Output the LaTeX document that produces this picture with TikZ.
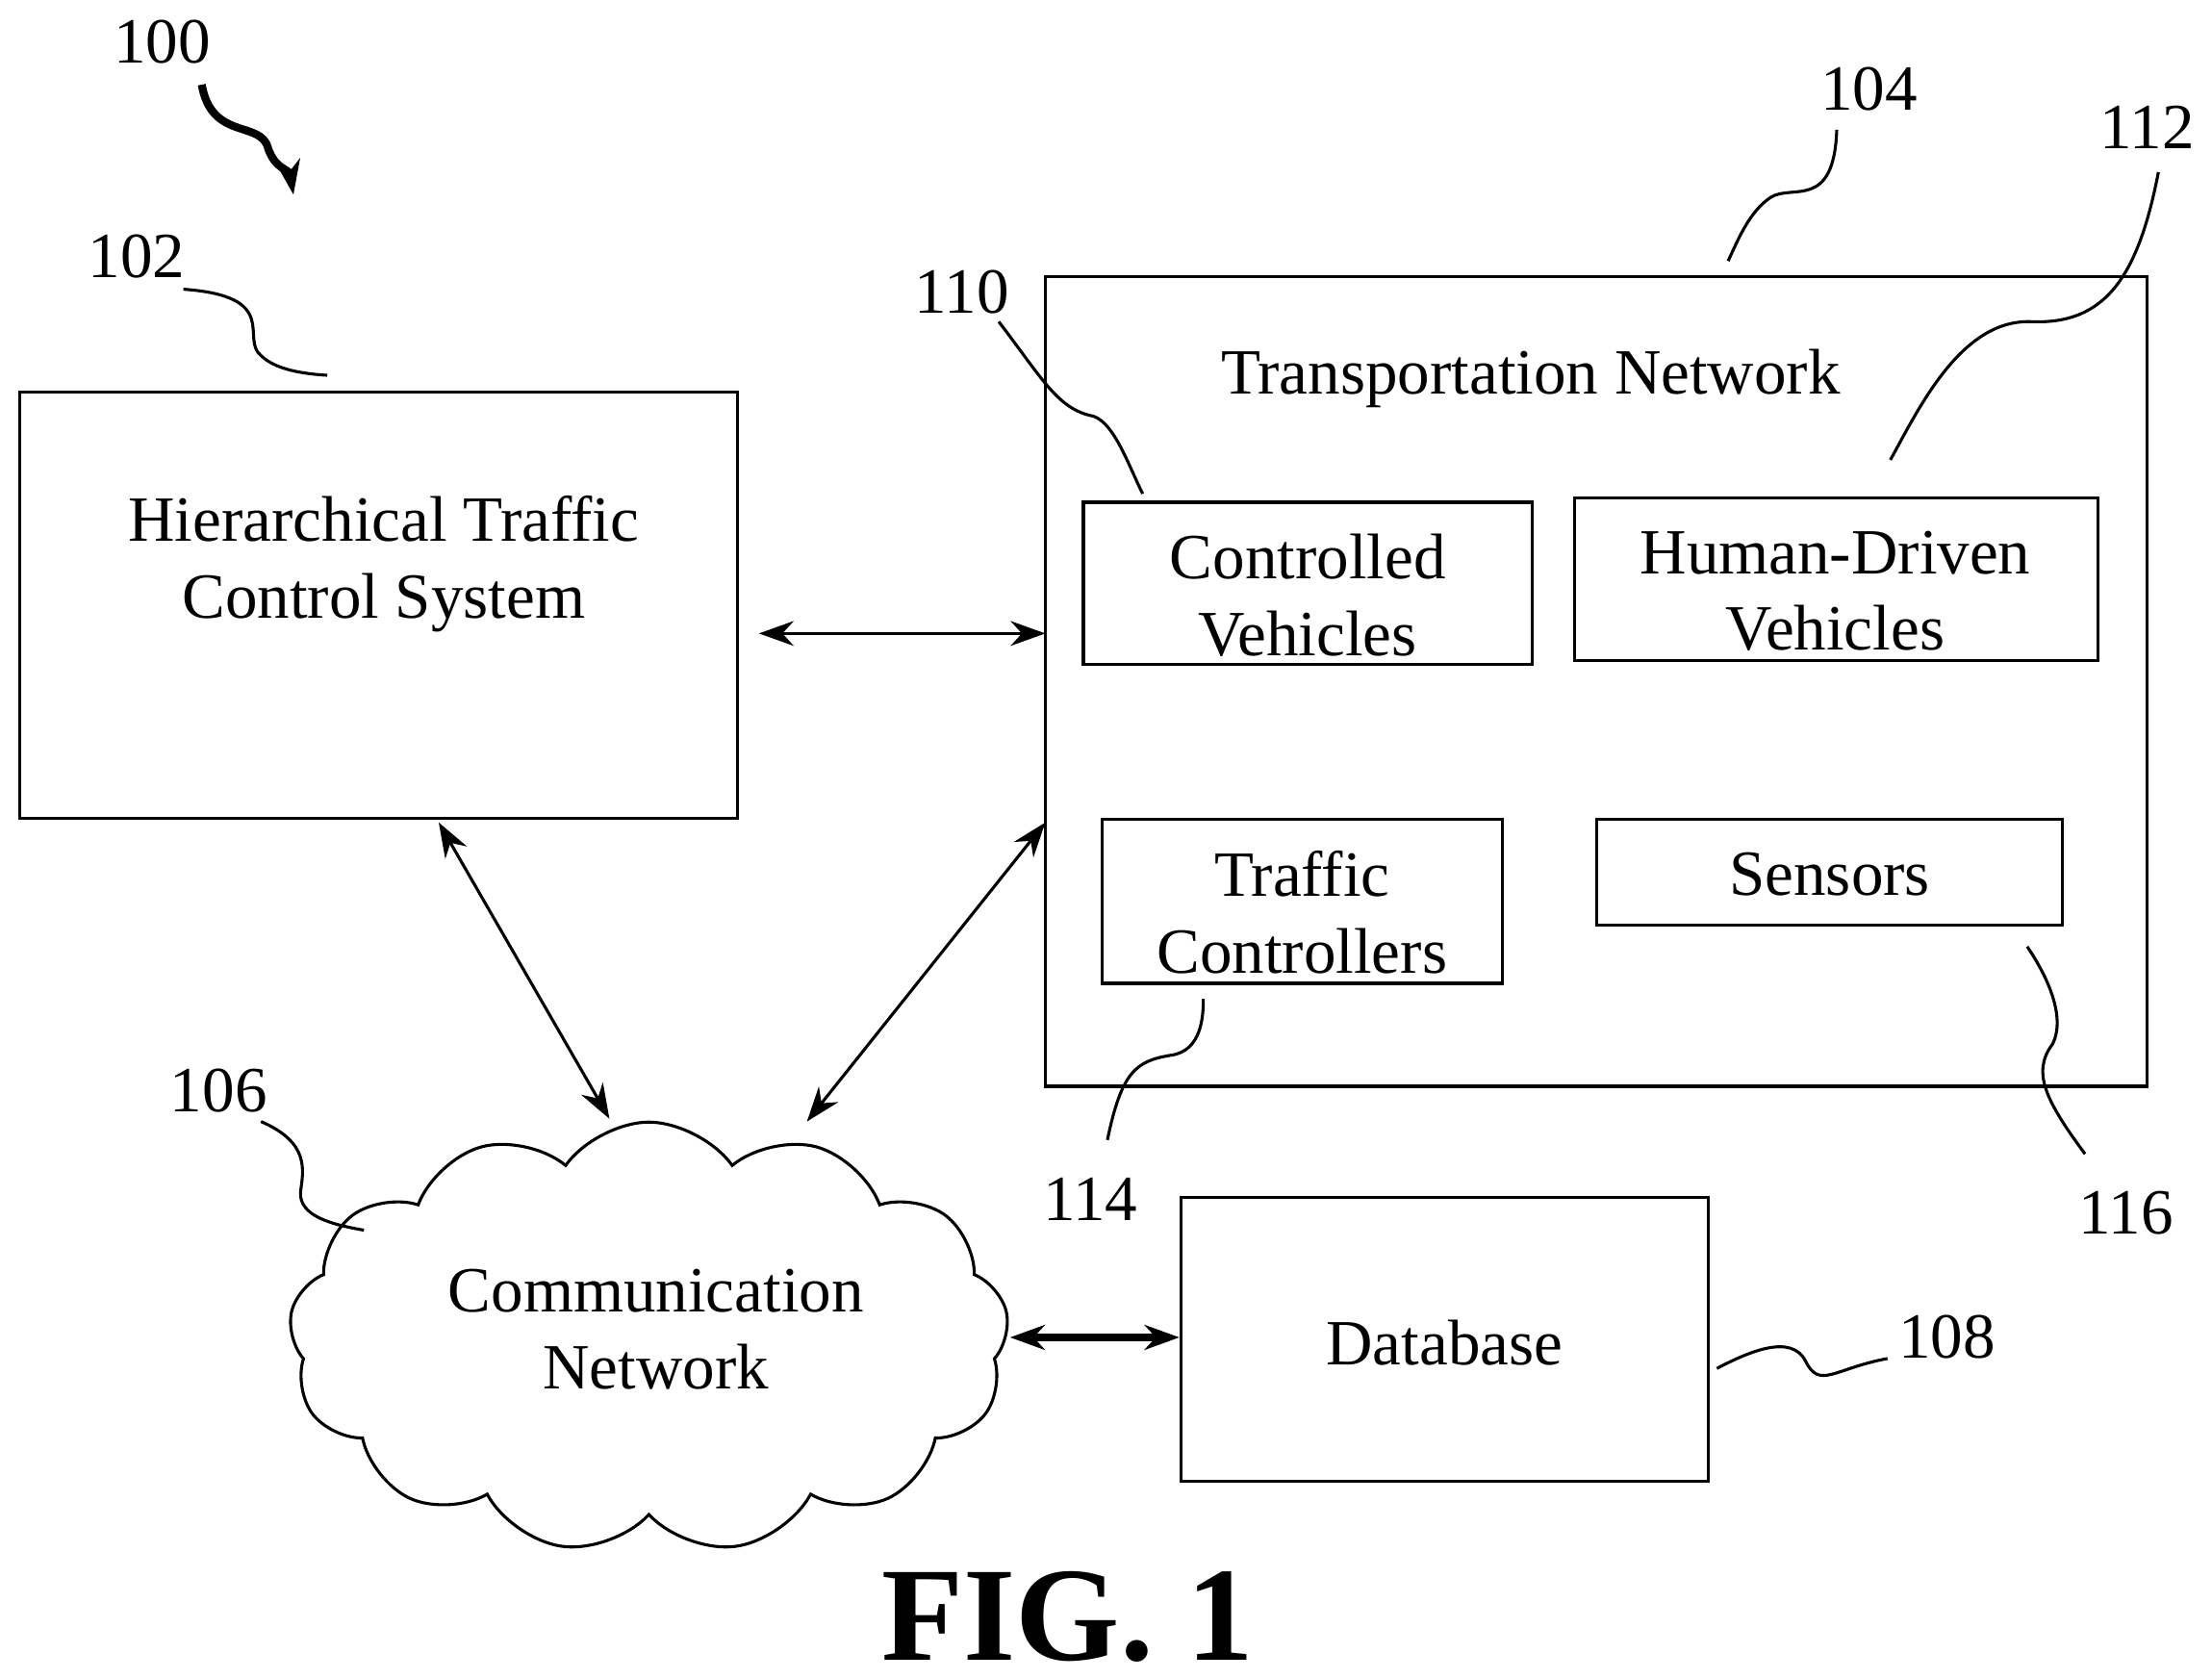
\documentclass[tikz,border=0pt]{standalone}
\usepackage{fontspec}
\setmainfont{Liberation Serif}
\usetikzlibrary{shapes.symbols,arrows.meta}

\begin{document}
\begin{tikzpicture}[%
    x=0.01cm, y=-0.01cm,        % pixel-like grid, y grows downwards
    >={Stealth[length=7pt,width=5pt]},
    font=\fontsize{13}{15.5}\selectfont,
    ]
% -------------------------------------------------
% Box and line styles
\tikzset{
  box/.style={draw, semithick},
  link/.style={<->, semithick},
  lead/.style={semithick},
  num/.style={inner sep=1pt}
}
\useasboundingbox (0,0) rectangle (1568,1190);
% -------------------------------------------------
% Main blocks
\draw [box] (14,278) rectangle (523,580);
\coordinate (htcsE) at (538,449);
\node [align=center] (htcs) at (272,400) {Hierarchical Traffic\\Control System};
\draw [box] (741,196) rectangle (1522,770);
\coordinate (tnW) at (741,449);
\coordinate (tnSW) at (741,583);
\node (tn) at (1085,268) {Transportation Network};
\draw [box] (768,356) rectangle (1086,471);
\node [align=center] (cv) at (927,422) {Controlled\\Vehicles};
\draw [box] (1116,353) rectangle (1487,468);
\node [align=center] (hv) at (1301,419) {Human-Driven\\Vehicles};
\draw [box] (781,581) rectangle (1065,697);
\node [align=center] (tc) at (923,647) {Traffic\\Controllers};
\draw [box] (1132,581) rectangle (1462,656);
\node (sen) at (1297,620) {Sensors};
\draw [box] (837,849) rectangle (1211,1050);
\node (db) at (1024,952) {Database};
\coordinate (dbW) at (836,948);
% Cloud
\node [cloud, draw, semithick, cloud puffs=13, cloud puff arc=110, aspect=1.7,
       minimum width=5.1cm, minimum height=3.05cm] (cn) at (460,948) {};
\node [align=center] at (465,942) {Communication\\Network};
% -------------------------------------------------
% Connectors
\coordinate (htcsS) at (311,583);
\coordinate (cnN1) at (432,793);
\coordinate (cnN2) at (572,795);
\coordinate (cnE) at (716,948);
\draw [link] (htcsE) -- (tnW);
\draw [link] (htcsS) -- (cnN1);
\draw [link] (tnSW) -- (cnN2);
\draw [link, line width=1.6pt] (cnE) -- (dbW);
% -------------------------------------------------
% Reference numerals and their wavy leaders
\node [num] (n100) at (115,30) {100};
\draw [->, line width=1.6pt] (143,60) .. controls (150,100) and (185,85) .. (190,105) .. controls (195,120) and (205,120) .. (208,138);
\node [num] (n102) at (97,182) {102};
\draw [lead] (130,205) .. controls (200,210) and (170,240) .. (185,252) .. controls (195,262) and (215,265) .. (232,266);
\node [num] (n104) at (1325,63) {104};
\draw [lead] (1302,92) .. controls (1300,150) and (1270,130) .. (1255,140) .. controls (1240,150) and (1232,170) .. (1225,185);
\node [num] (n110) at (682,207) {110};
\draw [lead] (708,228) .. controls (740,270) and (750,290) .. (775,295) .. controls (790,300) and (800,330) .. (810,350);
\node [num] (n112) at (1522,90) {112};
\draw [lead] (1530,122) .. controls (1515,200) and (1490,230) .. (1440,228) .. controls (1390,226) and (1360,290) .. (1340,326);
\node [num] (n114) at (773,850) {114};
\draw [lead] (785,808) .. controls (795,760) and (805,752) .. (830,748) .. controls (852,745) and (853,720) .. (853,708);
\node [num] (n116) at (1507,860) {116};
\draw [lead] (1478,818) .. controls (1450,780) and (1440,760) .. (1455,740) .. controls (1465,720) and (1450,690) .. (1437,671);
\node [num] (n106) at (155,773) {106};
\draw [lead] (185,795) .. controls (220,810) and (215,830) .. (213,845) .. controls (212,862) and (235,868) .. (258,872);
\node [num] (n108) at (1380,948) {108};
\draw [lead] (1338,963) .. controls (1300,970) and (1290,985) .. (1280,965) .. controls (1270,945) and (1240,958) .. (1217,970);
% -------------------------------------------------
\node [font=\bfseries\fontsize{27}{32}\selectfont] (fig) at (757,1146) {FIG. 1};
\end{tikzpicture}
\end{document}
